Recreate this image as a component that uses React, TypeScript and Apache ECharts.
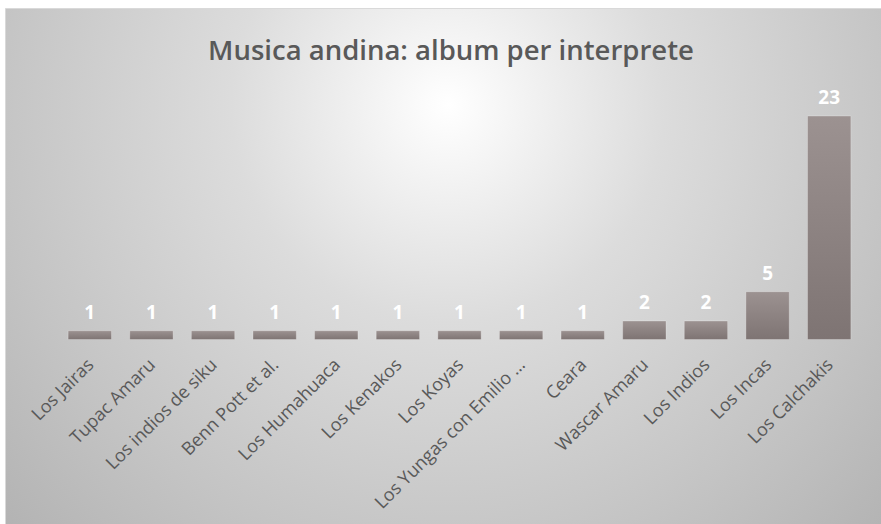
import React, { useEffect, useRef } from "react";
import * as echarts from "echarts";

const categories = [
  "Los Jairas",
  "Tupac Amaru",
  "Los indios de siku",
  "Benn Pott et al.",
  "Los Humahuaca",
  "Los Kenakos",
  "Los Koyas",
  "Los Yungas con Emilio …",
  "Ceara",
  "Wascar Amaru",
  "Los Indios",
  "Los Incas",
  "Los Calchakis",
];
const albums = [1, 1, 1, 1, 1, 1, 1, 1, 1, 2, 2, 5, 23];
const titleText = "Musica andina: album per interprete";

export default function App() {
  const ref = useRef<HTMLDivElement>(null);
  useEffect(() => {
    if (!ref.current) return;
    const chart = echarts.init(ref.current, undefined, { renderer: "svg" });
    chart.setOption({
      animation: false,
      graphic: [
        {
          type: "rect",
          z: -10,
          silent: true,
          shape: { x: 5.5, y: 8.5, width: 880, height: 520 },
          style: {
            fill: {
              type: "radial",
              x: 448,
              y: 105,
              r: 620,
              global: true,
              colorStops: [
                { offset: 0, color: "#ffffff" },
                { offset: 0.35, color: "#dcdcdc" },
                { offset: 0.73, color: "#c4c4c4" },
                { offset: 1, color: "#b2b2b2" },
              ],
            },
            stroke: "#d9d9d9",
            lineWidth: 1,
          },
        },
      ],
      title: {
        text: titleText,
        left: 446,
        textAlign: "center",
        top: 30,
        textStyle: {
          fontFamily: "Open Sans",
          fontSize: 27.5,
          fontWeight: 600,
          color: "#595959",
        },
      },
      grid: { left: 59, right: 21, top: 96, bottom: 184 },
      xAxis: {
        type: "category",
        data: categories,
        axisLine: { show: false },
        axisTick: { show: false },
        axisLabel: {
          rotate: 45,
          interval: 0,
          margin: 21,
          fontFamily: "Open Sans",
          fontSize: 18,
          color: "#595959",
        },
      },
      yAxis: {
        type: "value",
        min: 0,
        max: 25,
        show: false,
        splitLine: { show: false },
      },
      series: [
        {
          type: "bar",
          data: albums,
          barCategoryGap: "28%",
          itemStyle: {
            color: {
              type: "linear",
              x: 0,
              y: 0,
              x2: 0,
              y2: 1,
              colorStops: [
                { offset: 0, color: "#9c9291" },
                { offset: 1, color: "#7e7473" },
              ],
            },
            borderColor: "rgba(255,255,255,0.25)",
            borderWidth: 1,
          },
          label: {
            show: true,
            position: "top",
            distance: 9,
            fontFamily: "Open Sans",
            fontSize: 19,
            fontWeight: "bold",
            color: "#ffffff",
          },
        },
      ],
    });
    return () => chart.dispose();
  }, []);
  return (
    <div
      ref={ref}
      style={{ position: "absolute", left: 0, top: 0, width: 881, height: 524 }}
    />
  );
}
